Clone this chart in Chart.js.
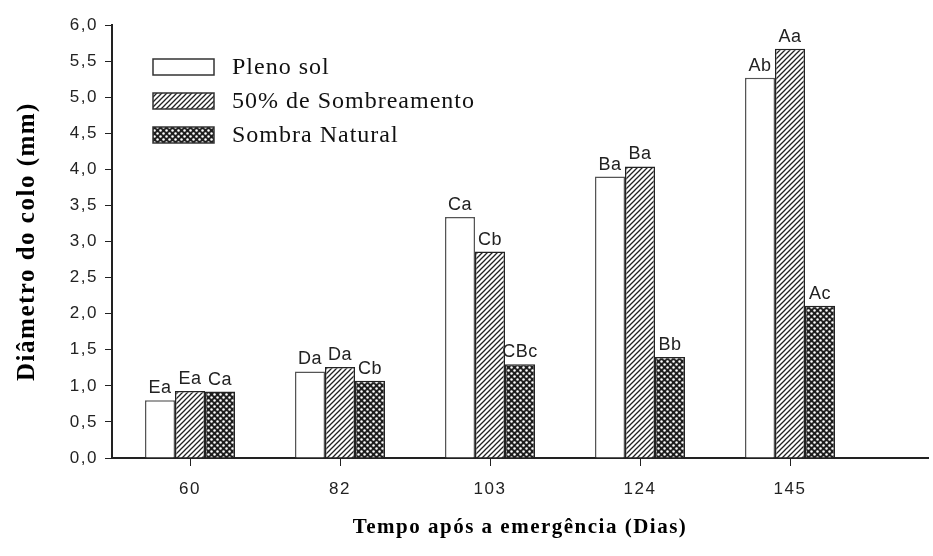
<!DOCTYPE html>
<html>
<head>
<meta charset="utf-8">
<script src="https://cdn.jsdelivr.net/npm/chart.js@4.4.1/dist/chart.umd.min.js"></script>
<style>
  html, body { margin: 0; padding: 0; background: #fff; }
  #wrap { width: 933px; height: 556px; }
</style>
</head>
<body>
<div id="wrap"><canvas id="c" width="933" height="556"></canvas></div>
<script>
// ---- Data ----
const categories = ['60', '82', '103', '124', '145'];
const seriesNames = ['Pleno sol', '50% de Sombreamento', 'Sombra Natural'];
const plenoSol = [0.80, 1.20, 3.34, 3.90, 5.27];
const sombreamento50 = [0.93, 1.26, 2.86, 4.04, 5.67];
const sombraNatural = [0.92, 1.07, 1.30, 1.40, 2.11];
const lettersPlenoSol = ['Ea', 'Da', 'Ca', 'Ba', 'Ab'];
const lettersSombreamento = ['Ea', 'Da', 'Cb', 'Ba', 'Aa'];
const lettersSombraNatural = ['Ca', 'Cb', 'CBc', 'Bb', 'Ac'];
const yTicks = [0, 0.5, 1, 1.5, 2, 2.5, 3, 3.5, 4, 4.5, 5, 5.5, 6];

// ---- Patterns ----
function hatchPattern() {
  const s = 5;
  const c = document.createElement('canvas');
  c.width = s; c.height = s;
  const g = c.getContext('2d');
  g.fillStyle = '#fff'; g.fillRect(0, 0, s, s);
  g.strokeStyle = '#222'; g.lineWidth = 1.3;
  g.beginPath();
  g.moveTo(-1, s + 1); g.lineTo(s + 1, -1);
  g.moveTo(-1, 1); g.lineTo(1, -1);
  g.moveTo(s - 1, s + 1); g.lineTo(s + 1, s - 1);
  g.stroke();
  return g.createPattern(c, 'repeat');
}
function dotPattern() {
  const s = 6;
  const c = document.createElement('canvas');
  c.width = s; c.height = s;
  const g = c.getContext('2d');
  g.fillStyle = '#1e1e1e'; g.fillRect(0, 0, s, s);
  g.fillStyle = '#fff';
  g.beginPath(); g.arc(1.5, 1.5, 1.25, 0, Math.PI * 2); g.fill();
  g.beginPath(); g.arc(4.5, 4.5, 1.25, 0, Math.PI * 2); g.fill();
  return g.createPattern(c, 'repeat');
}
const fills = ['#ffffff', hatchPattern(), dotPattern()];
const borders = ['#555555', '#222222', '#222222'];

const toPts = arr => arr.map((v, i) => ({ x: i, y: v }));
const letterSets = [lettersPlenoSol, lettersSombreamento, lettersSombraNatural];

// ---- Plugins ----
const SP = '1.5px';
const spacing = {
  id: 'spacing',
  beforeUpdate(chart) { chart.ctx.letterSpacing = SP; },
  beforeLayout(chart) { chart.ctx.letterSpacing = SP; },
  beforeDraw(chart) { chart.ctx.letterSpacing = SP; }
};

const barLetters = {
  id: 'barLetters',
  afterDatasetsDraw(chart) {
    const ctx = chart.ctx;
    ctx.save();
    ctx.letterSpacing = '0.5px';
    ctx.font = '18px "Liberation Sans", Arial, sans-serif';
    ctx.fillStyle = '#222';
    ctx.textAlign = 'center';
    ctx.textBaseline = 'bottom';
    chart.data.datasets.forEach((ds, di) => {
      const meta = chart.getDatasetMeta(di);
      meta.data.forEach((el, i) => {
        ctx.fillText(letterSets[di][i], el.x, el.y - 3);
      });
    });
    ctx.restore();
  }
};

const boxLegend = {
  id: 'boxLegend',
  afterDraw(chart) {
    const ctx = chart.ctx;
    ctx.save();
    const x0 = 153, w = 61, h = 16;
    const ys = [67, 101, 135];
    ctx.letterSpacing = '1px';
    ctx.font = '24px "Liberation Serif", "Times New Roman", serif';
    ctx.textBaseline = 'middle';
    ctx.textAlign = 'left';
    chart.data.datasets.forEach((ds, i) => {
      const y = ys[i] - h / 2;
      ctx.fillStyle = ds.backgroundColor;
      ctx.fillRect(x0, y, w, h);
      ctx.lineWidth = 1.5;
      ctx.strokeStyle = '#333';
      ctx.strokeRect(x0, y, w, h);
      ctx.fillStyle = '#111';
      ctx.fillText(ds.label, 232, ys[i] + 1);
    });
    ctx.restore();
  }
};

new Chart(document.getElementById('c'), {
  type: 'bar',
  data: {
    datasets: [
      { label: seriesNames[0], data: toPts(plenoSol) },
      { label: seriesNames[1], data: toPts(sombreamento50) },
      { label: seriesNames[2], data: toPts(sombraNatural) }
    ].map((d, i) => Object.assign(d, {
      backgroundColor: fills[i],
      borderColor: borders[i],
      borderWidth: 1.5,
      categoryPercentage: 0.6,
      barPercentage: 1.0
    }))
  },
  options: {
    responsive: false,
    animation: false,
    events: [],
    layout: { padding: { top: 25, right: 5, left: 0, bottom: 0 } },
    plugins: { legend: { display: false }, tooltip: { enabled: false } },
    scales: {
      x: {
        type: 'linear',
        offset: false,
        min: -0.52,
        max: 4.92,
        afterBuildTicks(scale) {
          scale.ticks = categories.map((_, i) => ({ value: i }));
        },
        afterFit(scale) { scale.height = 98; },
        ticks: {
          callback: v => categories[v],
          color: '#222',
          padding: 13,
          maxRotation: 0,
          font: { family: '"Liberation Sans", Arial, sans-serif', size: 17 }
        },
        grid: { offset: false, drawOnChartArea: false, drawTicks: true, tickLength: 8, color: '#222', lineWidth: 1 },
        border: { display: true, color: '#222', width: 2 },
        title: {
          display: true,
          text: 'Tempo após a emergência (Dias)',
          color: '#000',
          padding: { top: 10, bottom: 16 },
          font: { family: '"Liberation Serif", "Times New Roman", serif', size: 21, weight: 'bold' }
        }
      },
      y: {
        min: 0,
        max: 6,
        afterBuildTicks(scale) {
          scale.ticks = yTicks.map(v => ({ value: v }));
        },
        afterFit(scale) { scale.width = 112; },
        ticks: {
          callback: v => v.toFixed(1).replace('.', ','),
          color: '#222',
          padding: 7,
          font: { family: '"Liberation Sans", Arial, sans-serif', size: 17 }
        },
        grid: { drawOnChartArea: false, drawTicks: true, tickLength: 7, color: '#222', lineWidth: 1 },
        border: { display: true, color: '#222', width: 2 },
        title: {
          display: true,
          text: 'Diâmetro do colo (mm)',
          color: '#000',
          padding: { top: 13, bottom: 0 },
          font: { family: '"Liberation Serif", "Times New Roman", serif', size: 25, weight: 'bold' }
        }
      }
    }
  },
  plugins: [spacing, barLetters, boxLegend]
});
</script>
</body>
</html>
